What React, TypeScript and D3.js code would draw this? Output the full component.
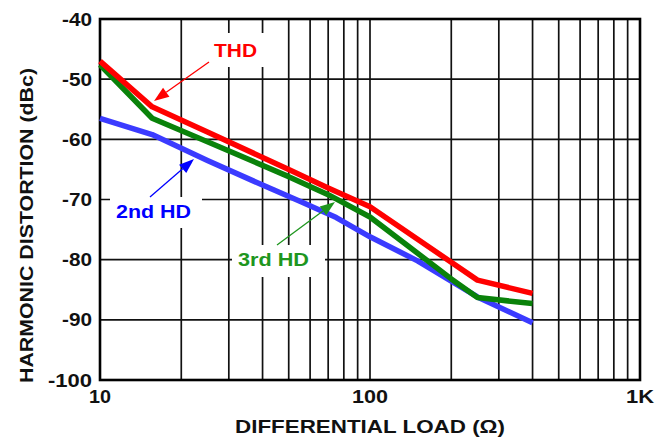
import React from "react";
import * as d3 from "d3";

const yTicks = [-40, -50, -60, -70, -80, -90, -100];
const xMajorTicks = [10, 100, 1000];
const xTickLabels = ["10", "100", "1K"];
const xMinorTicks = [20, 30, 40, 50, 60, 70, 80, 90, 200, 300, 400, 500, 600, 700, 800, 900];

const thdLoad = [10, 15.6, 25, 50, 70, 100, 250, 400];
const thdDb = [-47, -54.6, -58.8, -65.0, -68.1, -71.2, -83.4, -85.6];

const hd3Load = [10, 15.6, 25, 50, 70, 100, 200, 250, 400];
const hd3Db = [-47.6, -56.5, -60.4, -66.2, -69.2, -72.9, -83.2, -86.3, -87.3];

const hd2Load = [10, 15.6, 25, 40, 55, 75, 100, 150, 250, 400];
const hd2Db = [-56.5, -59.2, -63.5, -67.6, -70.3, -73.0, -76.2, -80.2, -86.2, -90.5];

const FONT = "'Liberation Sans', Arial, Helvetica, sans-serif";

export default function App() {
  const W = 670, H = 440;
  const L = 100, R = 640, T = 19, B = 380;
  const x = d3.scaleLog().domain([10, 1000]).range([L, R]);
  const y = d3.scaleLinear().domain([-100, -40]).range([B, T]);
  const line = d3
    .line<[number, number]>()
    .x((d) => x(d[0]))
    .y((d) => y(d[1]));
  const zip = (a: number[], b: number[]) => a.map((v, i) => [v, b[i]] as [number, number]);

  const arrow = (x1: number, y1: number, x2: number, y2: number, color: string) => {
    const ang = Math.atan2(y2 - y1, x2 - x1);
    const len = 15, half = 5.5;
    const bx = x2 - len * Math.cos(ang), by = y2 - len * Math.sin(ang);
    const px = -Math.sin(ang) * half, py = Math.cos(ang) * half;
    return (
      <g>
        <line x1={x1} y1={y1} x2={bx} y2={by} stroke={color} strokeWidth={1.3} />
        <polygon points={`${x2},${y2} ${bx + px},${by + py} ${bx - px},${by - py}`} fill={color} />
      </g>
    );
  };

  const yLen = (t: number) => (String(t).length === 4 ? 44 : 30);
  const xLen = [22, 36, 28];

  return (
    <div style={{ position: "fixed", left: 0, top: 0 }}>
      <svg width={W} height={H} style={{ display: "block", background: "#fff" }}>
        {/* grid */}
        {yTicks.map((t) => (
          <line key={"h" + t} x1={L} x2={R} y1={y(t)} y2={y(t)} stroke="#111" strokeWidth={1.7} />
        ))}
        {[...xMinorTicks, ...xMajorTicks].map((t) => (
          <line key={"v" + t} x1={x(t)} x2={x(t)} y1={T} y2={B} stroke="#111" strokeWidth={1.7} />
        ))}
        <rect x={L} y={T} width={R - L} height={B - T} fill="none" stroke="#000" strokeWidth={2.6} />

        {/* label boxes */}
        <rect x={204} y={33} width={64} height={34} fill="#fff" />
        <rect x={110} y={197} width={92} height={31} fill="#fff" />
        <rect x={232} y={245} width={93} height={32} fill="#fff" />

        {/* series */}
        <path d={line(zip(hd2Load, hd2Db)) || ""} fill="none" stroke="#3b3bff" strokeWidth={5.5} strokeLinejoin="round" />
        <path d={line(zip(hd3Load, hd3Db)) || ""} fill="none" stroke="#0a820a" strokeWidth={5.5} strokeLinejoin="round" />
        <path d={line(zip(thdLoad, thdDb)) || ""} fill="none" stroke="#ff0000" strokeWidth={5.5} strokeLinejoin="round" />

        {/* annotations */}
        <text x={214} y={57} fill="#ff0000" fontFamily={FONT} fontWeight="bold" fontSize={18.5} textLength={43} lengthAdjust="spacingAndGlyphs">THD</text>
        {arrow(209, 62, 154, 101, "#ff0000")}
        <text x={116} y={218} fill="#0000ff" fontFamily={FONT} fontWeight="bold" fontSize={17.5} textLength={75} lengthAdjust="spacingAndGlyphs">2nd HD</text>
        {arrow(150, 197, 194, 159, "#0000ff")}
        <text x={238} y={265.5} fill="#1e961e" fontFamily={FONT} fontWeight="bold" fontSize={17.5} textLength={71} lengthAdjust="spacingAndGlyphs">3rd HD</text>
        {arrow(277, 245, 335, 202, "#1e961e")}

        {/* y tick labels */}
        {yTicks.map((t) => (
          <text key={"yl" + t} x={92 - yLen(t)} y={y(t) + 6.5} fontFamily={FONT} fontWeight="bold" fontSize={18.5} fill="#111" textLength={yLen(t)} lengthAdjust="spacingAndGlyphs">{String(t)}</text>
        ))}
        {/* x tick labels */}
        {xMajorTicks.map((t, i) => (
          <text key={"xl" + t} x={x(t) - xLen[i] / 2} y={403} fontFamily={FONT} fontWeight="bold" fontSize={19} fill="#111" textLength={xLen[i]} lengthAdjust="spacingAndGlyphs">{xTickLabels[i]}</text>
        ))}

        {/* axis titles */}
        <text x={370} y={433} textAnchor="middle" fontFamily={FONT} fontWeight="bold" fontSize={18} fill="#111" textLength={270} lengthAdjust="spacingAndGlyphs">DIFFERENTIAL LOAD (Ω)</text>
        <text transform={`translate(33, ${225.5}) rotate(-90)`} textAnchor="middle" fontFamily={FONT} fontWeight="bold" fontSize={18} fill="#111" textLength={315} lengthAdjust="spacingAndGlyphs">HARMONIC DISTORTION (dBc)</text>
      </svg>
    </div>
  );
}
